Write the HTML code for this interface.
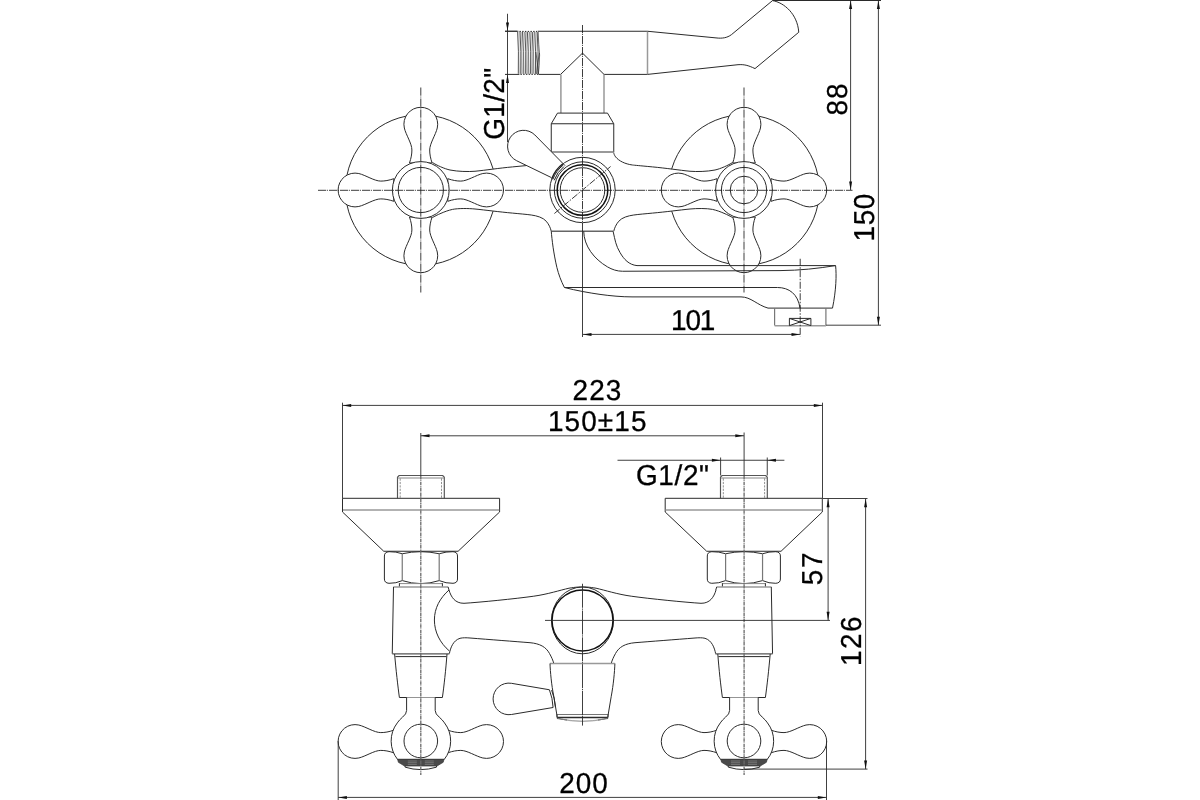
<!DOCTYPE html>
<html lang="en"><head><meta charset="utf-8"><title>Mixer dimensions</title>
<style>
html,body{margin:0;padding:0;background:#fff;}
body{width:1200px;height:800px;overflow:hidden;}
svg{display:block;will-change:transform;}
text{font-family:"Liberation Sans",sans-serif;fill:#000;stroke:#000;stroke-width:0.3;text-rendering:geometricPrecision;}
.o{fill:none;stroke:#2b2b2b;stroke-width:1.0;stroke-linejoin:round;stroke-linecap:butt;}
.w{fill:#fff;stroke:#2b2b2b;stroke-width:1.0;stroke-linejoin:round;}
.m{fill:#fff;stroke:none;}
.c{fill:none;stroke:#1a1a1a;stroke-width:0.85;stroke-dasharray:8.2 0.9 0.9 1;}
.d{fill:none;stroke:#2a2a2a;stroke-width:0.9;}
.g{fill:none;stroke:#999;stroke-width:1.5;}
.k{fill:none;stroke:#111;stroke-width:1.5;}
.a{fill:#111;stroke:none;}
.h{fill:none;stroke:#444;stroke-width:0.6;stroke-dasharray:2.2 1.2;}
</style></head><body>
<svg width="1200" height="800" viewBox="0 0 1200 800">
<rect width="1200" height="800" fill="#fff"/>

<g id="top">
<circle class="o" cx="420.8" cy="190" r="75.3"/>
<circle class="o" cx="744.0" cy="190" r="75.3"/>
<path class="m" d="M 432 162.5 C 436 165 445 169 450 170 C 458 171.6 468 171.8 475 171.25 C 485 170.3 500 168 512.5 166.9 L 526.25 165.6 L 551 177.5 L 551.25 231.25 C 550.5 228 549 224.5 546.25 221.25 C 543 217.5 537 215.8 531.25 215 C 526 214.3 520 213.8 512.5 213.1 C 500 212 485 210 475 209 C 468 208.3 458 208.3 452.5 209.4 C 445 211 436 215.5 432.5 217.5 Z"/>
<path class="m" d="M 733.00 162.50 C 729.00 165.00 720.00 169.00 715.00 170.00 C 707.00 171.60 697.00 171.80 690.00 171.25 C 680.00 170.30 665.00 168.00 652.50 166.90 L 638.75 165.60 L 614.00 177.50 L 613.75 231.25 C 614.50 228.00 616.00 224.50 618.75 221.25 C 622.00 217.50 628.00 215.80 633.75 215.00 C 639.00 214.30 645.00 213.80 652.50 213.10 C 665.00 212.00 680.00 210.00 690.00 209.00 C 697.00 208.30 707.00 208.30 712.50 209.40 C 720.00 211.00 729.00 215.50 732.50 217.50 Z"/>
<path class="o" d="M 432.5 162.5 C 436 165 445 169 450 170 C 458 171.6 468 171.8 475 171.25 C 485 170.3 500 168 512.5 166.9 L 526.25 165.6"/>
<path class="o" d="M 432.5 217.5 C 436 215.5 445 211 452.5 209.4 C 458 208.3 468 208.3 475 209 C 485 210 500 212 512.5 213.1 C 520 213.8 526 214.3 531.25 215 C 537 215.8 543 217.5 546.25 221.25 C 549 224.5 550.5 228 551.25 231.25"/>
<path class="o" d="M 732.50 162.50 C 729.00 165.00 720.00 169.00 715.00 170.00 C 707.00 171.60 697.00 171.80 690.00 171.25 C 680.00 170.30 665.00 168.00 652.50 166.90 C 638.75 165.60 635.00 165.30 632.50 165.00 C 625.00 164.00 619.00 161.00 615.60 156.90 C 614.40 155.30 613.75 153.50 613.75 152.50"/>
<path class="o" d="M 732.50 217.50 C 729.00 215.50 720.00 211.00 712.50 209.40 C 707.00 208.30 697.00 208.30 690.00 209.00 C 680.00 210.00 665.00 212.00 652.50 213.10 C 645.00 213.80 639.00 214.30 633.75 215.00 C 628.00 215.80 622.00 217.50 618.75 221.25 C 616.00 224.50 614.50 228.00 613.75 231.25"/>
<g class="w">
<path transform="translate(420.8 190) rotate(0) scale(1 -1)" d="M -11.3 27 C -9.6 32 -8.9 36 -8.9 40 C -8.9 46.5 -14.9 55.2 -16.47 62 A 16.9 16.9 0 1 0 16.47 62 C 14.9 55.2 8.9 46.5 8.9 40 C 8.9 36 9.6 32 11.3 27 Z"/>
<path transform="translate(420.8 190) rotate(90) scale(1 -1)" d="M -11.3 27 C -9.6 32 -8.9 36 -8.9 40 C -8.9 46.5 -14.9 55.2 -16.47 62 A 16.9 16.9 0 1 0 16.47 62 C 14.9 55.2 8.9 46.5 8.9 40 C 8.9 36 9.6 32 11.3 27 Z"/>
<path transform="translate(420.8 190) rotate(180) scale(1 -1)" d="M -11.3 27 C -9.6 32 -8.9 36 -8.9 40 C -8.9 46.5 -14.9 55.2 -16.47 62 A 16.9 16.9 0 1 0 16.47 62 C 14.9 55.2 8.9 46.5 8.9 40 C 8.9 36 9.6 32 11.3 27 Z"/>
<path transform="translate(420.8 190) rotate(270) scale(1 -1)" d="M -11.3 27 C -9.6 32 -8.9 36 -8.9 40 C -8.9 46.5 -14.9 55.2 -16.47 62 A 16.9 16.9 0 1 0 16.47 62 C 14.9 55.2 8.9 46.5 8.9 40 C 8.9 36 9.6 32 11.3 27 Z"/>
<circle cx="420.8" cy="190" r="28.4"/>
<circle cx="420.8" cy="190" r="22.6"/>
</g>
<g class="w">
<path transform="translate(744.0 190) rotate(0) scale(1 -1)" d="M -11.3 27 C -9.6 32 -8.9 36 -8.9 40 C -8.9 46.5 -14.9 55.2 -16.47 62 A 16.9 16.9 0 1 0 16.47 62 C 14.9 55.2 8.9 46.5 8.9 40 C 8.9 36 9.6 32 11.3 27 Z"/>
<path transform="translate(744.0 190) rotate(90) scale(1 -1)" d="M -11.3 27 C -9.6 32 -8.9 36 -8.9 40 C -8.9 46.5 -14.9 55.2 -16.47 62 A 16.9 16.9 0 1 0 16.47 62 C 14.9 55.2 8.9 46.5 8.9 40 C 8.9 36 9.6 32 11.3 27 Z"/>
<path transform="translate(744.0 190) rotate(180) scale(1 -1)" d="M -11.3 27 C -9.6 32 -8.9 36 -8.9 40 C -8.9 46.5 -14.9 55.2 -16.47 62 A 16.9 16.9 0 1 0 16.47 62 C 14.9 55.2 8.9 46.5 8.9 40 C 8.9 36 9.6 32 11.3 27 Z"/>
<path transform="translate(744.0 190) rotate(270) scale(1 -1)" d="M -11.3 27 C -9.6 32 -8.9 36 -8.9 40 C -8.9 46.5 -14.9 55.2 -16.47 62 A 16.9 16.9 0 1 0 16.47 62 C 14.9 55.2 8.9 46.5 8.9 40 C 8.9 36 9.6 32 11.3 27 Z"/>
<circle cx="744.0" cy="190" r="28.4"/>
<circle cx="744.0" cy="190" r="22.6"/>
</g>
<circle class="o" cx="744.0" cy="190" r="13.8"/>
<path class="o" d="M 505 31.25 H 518.4 M 537.6 31.25 H 647.5 M 505 74.4 H 519.4 M 538.4 74.4 H 560.6 M 603.9 74.4 H 647.5"/>
<path class="g" d="M 647.5 31.25 V 74.4"/>
<path class="o" d="M 560.6 74.4 L 582.5 53.1 L 604 74.4"/>
<path class="g" d="M 560.9 74.4 V 113.1 M 604 74.4 V 113.1"/>
<path class="o" d="M 557.5 113.1 H 607.5 M 557.5 113.1 L 551.25 123.75 H 613.75 L 607.5 113.1 M 551.25 123.75 V 152 M 613.75 123.75 V 152"/>
<path class="g" d="M 551.25 152 H 613.75" style="stroke:#777"/>
<path class="g" d="M 551.25 231.2 H 613.1" style="stroke:#666"/>
<path d="M 517.60 32 Q 518.90 50 518.30 73.8 M 520.05 32 Q 521.35 50 520.75 73.8 M 522.50 32 Q 523.80 50 523.20 73.8 M 524.95 32 Q 526.25 50 525.65 73.8 M 527.40 32 Q 528.70 50 528.10 73.8 M 529.85 32 Q 531.15 50 530.55 73.8 M 532.30 32 Q 533.60 50 533.00 73.8 M 534.75 32 Q 536.05 50 535.45 73.8 M 537.20 32 Q 538.50 50 537.90 73.8" fill="none" stroke="#2a2a2a" stroke-width="0.8"/>
<path d="M 519.15 32 Q 518.50 55 519.35 73.8 M 521.60 32 Q 520.95 55 521.80 73.8 M 524.05 32 Q 523.40 55 524.25 73.8 M 526.50 32 Q 525.85 55 526.70 73.8 M 528.95 32 Q 528.30 55 529.15 73.8 M 531.40 32 Q 530.75 55 531.60 73.8 M 533.85 32 Q 533.20 55 534.05 73.8 M 536.30 32 Q 535.65 55 536.50 73.8" fill="none" stroke="#777" stroke-width="0.45"/>
<path d="M 519.4 31.4 H 537 M 520.4 74.3 H 538" fill="none" stroke="#222" stroke-width="1" stroke-dasharray="1.5 1.25"/>
<path d="M 538.2 32 Q 538.6 45 539.6 55 Q 539.4 66 538.4 74 M 535.8 52 Q 537.5 62 538.6 74 M 539.5 53 Q 537.5 62 536.6 74" fill="none" stroke="#333" stroke-width="0.7"/>
<circle class="w" cx="582.5" cy="190" r="32.7"/>
<circle class="o" cx="582.5" cy="190" r="28.2"/>
<circle class="k" cx="582.5" cy="190" r="25.3"/>
<circle class="o" cx="582.5" cy="190" r="22.3"/>
<path class="w" d="M 565 165.6 L 534.8 134.9 A 16 16 0 1 0 516.7 160.75 L 551.25 177.5"/>
<path d="M 554.23 180.27 A 29.9 29.9 0 0 1 563.89 166.60 M 552.81 179.49 A 31.5 31.5 0 0 1 563.32 165.01" fill="none" stroke="#222" stroke-width="1"/>
<path d="M 551.77 178.82 A 32.7 32.7 0 0 1 562.82 163.88" fill="none" stroke="#222" stroke-width="1.3"/>
</g>
<path class="o" d="M 647.5 31.25 L 716 37.9 C 722 38.6 727 38 731.5 34.6 L 772.5 0.6 C 784 2.5 797.5 14 798.75 32.25 L 755 68.6 C 748 65.2 744 64.3 738 64.7 L 647.5 74.4"/>
<path class="o" d="M 551.25 231.25 C 552 240 553.5 253 556.9 267.5 C 558.5 274 561 281 564.4 287.5 H 777.5 C 789 287.5 798 294 800 308.1"/>
<path class="o" d="M 564.4 287.5 C 576 290.5 590 293 600 294.4 C 610 295.8 622 296.9 632 296.9 H 741 C 751 296.9 757 305 768 308.1 H 832.5"/>
<path class="o" d="M 583.7 231.25 C 584 246 594 259 607.5 266.9 C 612 269.5 617 271.25 622.5 271.25 L 780 270.6 C 800 270.4 818 268.5 835.4 265.6"/>
<path class="o" d="M 613.1 231.25 C 615 240 616 246 620 252.5 C 624 259.5 629 264.8 637 265.6 H 835.6 C 836.6 275 836.2 290 832.5 308.1"/>
<path class="g" d="M 774.6 308.1 V 325.6 M 825.9 308.1 V 325.6" style="stroke-width:1.2;stroke:#777"/>
<path class="g" d="M 774.6 325.7 H 825.9"/>
<path class="o" d="M 789.4 325.6 V 318.4 H 810.9 V 325.6 M 789.4 318.4 L 810.9 325.6 M 810.9 318.4 L 789.4 325.6"/>
<path class="c" d="M 318 190.3 H 852.5"/>
<path class="c" d="M 420.8 87.5 V 292.5 M 744.0 87.5 V 292.5"/>
<path class="c" d="M 582.5 25 V 231"/>
<path class="d" d="M 582.5 231 V 337"/>
<path class="c" d="M 554.4 213.5 L 610.6 166.5" style="stroke-dasharray:7 1.5 1.5 1.5"/>
<path class="c" d="M 800.2 258.75 V 336.5" style="stroke-dasharray:7 1.5 1.5 1.5"/>
<path class="d" d="M 507.5 13.75 V 142 M 505 31.25 H 517"/>
<path class="a" d="M 507.50 31.00 L 506.00 22.50 L 509.00 22.50 Z"/>
<path class="a" d="M 507.50 74.60 L 509.00 83.10 L 506.00 83.10 Z"/>
<path class="d" d="M 583 334.4 H 800"/>
<path class="a" d="M 583.00 334.40 L 591.50 332.90 L 591.50 335.90 Z"/>
<path class="a" d="M 800.00 334.40 L 791.50 335.90 L 791.50 332.90 Z"/>
<path class="d" d="M 772.5 0.4 H 881" style="stroke-width:1.2"/>
<path class="d" d="M 850.6 0 V 190 M 878.4 0 V 325.2 M 826 325.2 H 881"/>
<path class="a" d="M 850.60 0.50 L 852.10 9.00 L 849.10 9.00 Z"/>
<path class="a" d="M 850.60 190.00 L 849.10 181.50 L 852.10 181.50 Z"/>
<path class="a" d="M 878.40 0.50 L 879.90 9.00 L 876.90 9.00 Z"/>
<path class="a" d="M 878.40 325.20 L 876.90 316.70 L 879.90 316.70 Z"/>
<text transform="translate(504.00 139.85) rotate(-90) scale(0.97 1)" font-size="28.8" letter-spacing="0.369">G1/2&quot;</text>
<text transform="translate(846.80 115.40) rotate(-90) scale(0.97 1)" font-size="28.8" letter-spacing="1.0">88</text>
<text transform="translate(874.40 241.50) rotate(-90) scale(0.97 1)" font-size="28.8" letter-spacing="0.639">150</text>
<text transform="translate(671.00 329.90) rotate(0) scale(0.97 1)" font-size="28.8" letter-spacing="-1.165">101</text>
<g id="bottom">
<g class="w">
<path transform="translate(420.8 741.5) rotate(90) scale(1 -1)" d="M -11.3 27 C -9.6 32 -8.9 36 -8.9 40 C -8.9 46.5 -14.9 55.2 -16.47 62 A 16.9 16.9 0 1 0 16.47 62 C 14.9 55.2 8.9 46.5 8.9 40 C 8.9 36 9.6 32 11.3 27 Z"/>
<path transform="translate(420.8 741.5) rotate(270) scale(1 -1)" d="M -11.3 27 C -9.6 32 -8.9 36 -8.9 40 C -8.9 46.5 -14.9 55.2 -16.47 62 A 16.9 16.9 0 1 0 16.47 62 C 14.9 55.2 8.9 46.5 8.9 40 C 8.9 36 9.6 32 11.3 27 Z"/>
<path transform="translate(744.0 741.5) rotate(90) scale(1 -1)" d="M -11.3 27 C -9.6 32 -8.9 36 -8.9 40 C -8.9 46.5 -14.9 55.2 -16.47 62 A 16.9 16.9 0 1 0 16.47 62 C 14.9 55.2 8.9 46.5 8.9 40 C 8.9 36 9.6 32 11.3 27 Z"/>
<path transform="translate(744.0 741.5) rotate(270) scale(1 -1)" d="M -11.3 27 C -9.6 32 -8.9 36 -8.9 40 C -8.9 46.5 -14.9 55.2 -16.47 62 A 16.9 16.9 0 1 0 16.47 62 C 14.9 55.2 8.9 46.5 8.9 40 C 8.9 36 9.6 32 11.3 27 Z"/>
</g>
<path class="o" d="M 397.5 498.3 V 477.2 L 399.2 475.5 H 442.6 L 444.3 477.2 V 498.3" style="stroke:#555;stroke-width:1.15"/>
<path class="g" d="M 397.8 478 H 444" style="stroke-width:1.2;stroke:#888"/>
<path class="h" d="M 400.2 478.5 V 498 M 441.5 478.5 V 498"/>
<path class="o" d="M 342.5 498.3 H 499.6 V 512 L 458.1 551.25 H 383.75 L 342.5 512 Z"/>
<path class="g" d="M 343 510 H 499.2"/>
<path class="o" d="M 384.4 556 Q 384.4 552 389 551.7 Q 396 551.5 402.25 553.75 Q 420.8 549.6 439.2 553.75 Q 446 551.5 453 551.7 Q 457.5 552 457.5 556 V 579 Q 457.5 583 453 583.3 Q 446 583.5 439.2 580.6 Q 420.8 586.6 402.25 580.6 Q 396 583.5 389 583.3 Q 384.4 583 384.4 579 Z"/>
<path class="g" d="M 402.25 553.75 V 580.6 M 439.2 553.75 V 580.6" style="stroke-width:1.2;stroke:#777"/>
<path class="g" d="M 399.4 583.6 H 442.4" style="stroke-width:1;stroke:#888"/>
<path class="o" d="M 399.4 583.2 V 586.9 M 442.4 583.2 V 586.9"/>
<path class="g" d="M 393.5 586.9 H 448.1"/>
<path class="o" d="M 393.5 586.9 L 392.25 653.75 M 448.1 586.9 L 449 590"/>
<path class="o" d="M 449 590 C 440 598 434.4 608 434.4 620 C 434.4 632 440 643 449.4 651"/>
<path class="g" d="M 392.25 653.9 H 449.4" style="stroke-width:1.3;stroke:#555"/>
<path class="o" d="M 395.4 656.6 H 446.4 M 394.6 654 C 396 670 397.8 686 399.4 697.5 H 442.4 C 444 686 445.8 670 447 654"/>
<path class="w" d="M 406.6 697.5 V 710.5 Q 406.6 714 402.5 717.2 Q 399.2 720 397.3 722.9 A 29.7 29.7 0 0 0 397.7 759.6 H 444.1 A 29.7 29.7 0 0 0 444.5 722.9 Q 442.6 720 439.3 717.2 Q 435.2 714 435.2 710.5 V 697.5" />
<g transform="translate(1164.8 0) scale(-1 1)">
<path class="o" d="M 397.5 498.3 V 477.2 L 399.2 475.5 H 442.6 L 444.3 477.2 V 498.3" style="stroke:#555;stroke-width:1.15"/>
<path class="g" d="M 397.8 478 H 444" style="stroke-width:1.2;stroke:#888"/>
<path class="h" d="M 400.2 478.5 V 498 M 441.5 478.5 V 498"/>
<path class="o" d="M 342.5 498.3 H 499.6 V 512 L 458.1 551.25 H 383.75 L 342.5 512 Z"/>
<path class="g" d="M 343 510 H 499.2"/>
<path class="o" d="M 384.4 556 Q 384.4 552 389 551.7 Q 396 551.5 402.25 553.75 Q 420.8 549.6 439.2 553.75 Q 446 551.5 453 551.7 Q 457.5 552 457.5 556 V 579 Q 457.5 583 453 583.3 Q 446 583.5 439.2 580.6 Q 420.8 586.6 402.25 580.6 Q 396 583.5 389 583.3 Q 384.4 583 384.4 579 Z"/>
<path class="g" d="M 402.25 553.75 V 580.6 M 439.2 553.75 V 580.6" style="stroke-width:1.2;stroke:#777"/>
<path class="g" d="M 399.4 583.6 H 442.4" style="stroke-width:1;stroke:#888"/>
<path class="o" d="M 399.4 583.2 V 586.9 M 442.4 583.2 V 586.9"/>
<path class="g" d="M 393.5 586.9 H 448.1"/>
<path class="o" d="M 393.5 586.9 L 392.25 653.75 M 448.1 586.9 L 449 590"/>
<path class="g" d="M 392.25 653.9 H 449.4" style="stroke-width:1.3;stroke:#555"/>
<path class="o" d="M 395.4 656.6 H 446.4 M 394.6 654 C 396 670 397.8 686 399.4 697.5 H 442.4 C 444 686 445.8 670 447 654"/>
<path class="w" d="M 406.6 697.5 V 710.5 Q 406.6 714 402.5 717.2 Q 399.2 720 397.3 722.9 A 29.7 29.7 0 0 0 397.7 759.6 H 444.1 A 29.7 29.7 0 0 0 444.5 722.9 Q 442.6 720 439.3 717.2 Q 435.2 714 435.2 710.5 V 697.5" />
</g>
<circle class="o" cx="420.8" cy="741" r="16.8"/>
<path d="M 397.6 759.2 H 444.0 L 443.2 762.3 L 437.0 766 H 404.6 L 398.40000000000003 762.3 Z" fill="#4a4a4a" stroke="#333" stroke-width="0.7" stroke-linejoin="round"/>
<path d="M 407.8 761 H 416.8 M 424.8 761 H 433.8 M 407.8 762.7 H 416.8 M 424.8 762.7 H 433.8 M 407.8 764.4 H 416.8 M 424.8 764.4 H 433.8" fill="none" stroke="#999" stroke-width="0.55"/>
<path class="o" d="M 405.0 766 L 405.2 767.2 Q 420.8 772 436.40000000000003 767.2 L 436.6 766"/>
<circle class="o" cx="744.0" cy="741" r="16.8"/>
<path d="M 720.8 759.2 H 767.2 L 766.4 762.3 L 760.2 766 H 727.8 L 721.6 762.3 Z" fill="#4a4a4a" stroke="#333" stroke-width="0.7" stroke-linejoin="round"/>
<path d="M 731.0 761 H 740.0 M 748.0 761 H 757.0 M 731.0 762.7 H 740.0 M 748.0 762.7 H 757.0 M 731.0 764.4 H 740.0 M 748.0 764.4 H 757.0" fill="none" stroke="#999" stroke-width="0.55"/>
<path class="o" d="M 728.2 766 L 728.4 767.2 Q 744.0 772 759.6 767.2 L 759.8 766"/>
<path class="o" d="M 449 590 C 451 597 455 603.4 464 603.3 C 480 602.3 515 598.8 533.75 596.2 C 548 594.2 560 590.2 569 588.2 C 575 587.1 580 586.9 582.5 586.9"/>
<path class="o" d="M 716.00 590.00 C 714.00 597.00 710.00 603.40 701.00 603.30 C 685.00 602.30 650.00 598.80 631.25 596.20 C 617.00 594.20 605.00 590.20 596.00 588.20 C 590.00 587.10 585.00 586.90 582.50 586.90"/>
<path class="o" d="M 449.4 653.5 C 450.5 648 453 640.5 460 638.3 C 463 637.6 466 637.7 470 638 C 490 639.6 515 641.5 530 642.7 C 540 643.6 546 647 549.5 653.5 C 551.5 657 553 660.5 553.75 663.3"/>
<path class="o" d="M 715.60 653.50 C 714.50 648.00 712.00 640.50 705.00 638.30 C 702.00 637.60 699.00 637.70 695.00 638.00 C 675.00 639.60 650.00 641.50 635.00 642.70 C 625.00 643.60 619.00 647.00 615.50 653.50 C 613.50 657.00 612.00 660.50 611.25 663.30"/>
<ellipse class="o" cx="582.5" cy="620.4" rx="31" ry="33.4"/>
<circle class="k" cx="582.5" cy="620.4" r="30.5"/>
<path class="g" d="M 550 663.5 H 614.75"/>
<path class="o" d="M 550 663.5 C 550.3 672 551.5 685 553.75 696.25 L 556.9 715 M 614.9 663.5 C 614.6 672 613.4 685 611.25 696.25 L 608.1 715"/>
<path class="o" d="M 556.9 714.5 H 608.1" style="stroke:#666;stroke-width:0.9"/>
<path class="o" d="M 557.1 717.5 H 607.9 M 556.9 714.5 L 557.1 717.5 M 608.1 714.5 L 607.9 717.5" style="stroke-width:1.4"/>
<path d="M 557.2 717.8 Q 561 719.6 567 720 L 557.2 718.6 Z M 607.8 717.8 Q 604 719.6 598 720 L 607.8 718.6 Z" fill="#444" stroke="#444" stroke-width="0.6"/>
<path d="M 558 718.4 Q 582.5 724.6 607 718.4 M 562 719.2 Q 582.5 723 603 719.2" fill="none" stroke="#888" stroke-width="0.6"/>
<path class="o" d="M 549.4 689.75 L 511.4 683.3 A 15.8 15.8 0 1 0 511.4 714.5 L 553.1 707.5"/>
<path class="o" d="M 549.4 689.75 Q 552.6 698 553.1 707.5 M 551.6 690.1 Q 554.9 698 555.4 707.1"/>
<path class="d" d="M 420.8 433 V 476 M 744.1 432.5 V 476"/>
<path d="M 420.8 476 V 775 M 744.1 476 V 775" fill="none" stroke="#6a6a6a" stroke-width="1.3" stroke-dasharray="3.6 0.6 0.9 0.6"/>
<path class="d" d="M 545 620.4 H 830"/>
<path class="d" d="M 582.5 583.75 V 725.6" style="stroke-dasharray:24 0.8 1.2 0.8"/>
<path class="d" d="M 342.5 405.4 H 822.5 M 342.5 402.7 V 498.3 M 822.5 402.7 V 498.3"/>
<path class="a" d="M 342.70 405.40 L 351.20 403.90 L 351.20 406.90 Z"/>
<path class="a" d="M 822.30 405.40 L 813.80 406.90 L 813.80 403.90 Z"/>
<path class="d" d="M 420.8 435.8 H 744.0"/>
<path class="a" d="M 421.00 435.80 L 429.50 434.30 L 429.50 437.30 Z"/>
<path class="a" d="M 743.80 435.80 L 735.30 437.30 L 735.30 434.30 Z"/>
<path class="d" d="M 617.5 460.25 H 784.4 M 720.6 457.5 V 475.5 M 767.25 457.5 V 475.5"/>
<path class="a" d="M 720.40 460.25 L 711.90 461.75 L 711.90 458.75 Z"/>
<path class="a" d="M 767.45 460.25 L 775.95 458.75 L 775.95 461.75 Z"/>
<path class="d" d="M 822.5 498.5 H 867.5 M 828.1 498.5 V 620.4 M 865.6 498.5 V 769.1 M 744 769.1 H 867.5"/>
<path class="a" d="M 828.10 498.70 L 829.60 507.20 L 826.60 507.20 Z"/>
<path class="a" d="M 828.10 620.20 L 826.60 611.70 L 829.60 611.70 Z"/>
<path class="a" d="M 865.60 498.70 L 867.10 507.20 L 864.10 507.20 Z"/>
<path class="a" d="M 865.60 768.90 L 864.10 760.40 L 867.10 760.40 Z"/>
<path class="d" d="M 338.2 797.4 H 826.5 M 338.2 741 V 800 M 826.5 741 V 800"/>
<path class="a" d="M 338.40 797.40 L 346.90 795.90 L 346.90 798.90 Z"/>
<path class="a" d="M 826.30 797.40 L 817.80 798.90 L 817.80 795.90 Z"/>
<text transform="translate(572.50 400.30) rotate(0) scale(0.97 1)" font-size="28.8" letter-spacing="1.18">223</text>
<text transform="translate(547.90 431.20) rotate(0) scale(0.97 1)" font-size="28.8" letter-spacing="1.144">150±15</text>
<text transform="translate(636.00 485.30) rotate(0) scale(0.97 1)" font-size="28.8" letter-spacing="0.639">G1/2&quot;</text>
<text transform="translate(822.10 585.25) rotate(-90) scale(0.97 1)" font-size="28.8" letter-spacing="1.722">57</text>
<text transform="translate(860.90 666.00) rotate(-90) scale(0.97 1)" font-size="28.8" letter-spacing="1.541">126</text>
<text transform="translate(559.20 792.50) rotate(0) scale(0.97 1)" font-size="28.8" letter-spacing="1.0">200</text>
</g>
</svg></body></html>
